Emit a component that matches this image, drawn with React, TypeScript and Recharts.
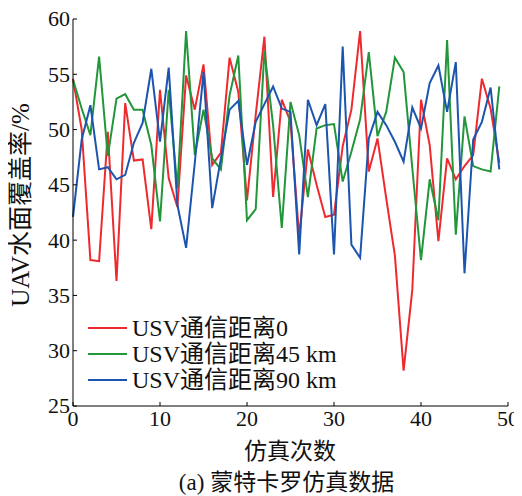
import { LineChart, Line, XAxis, YAxis } from 'recharts'

// 仿真次数 0..49
const runs = Array.from({ length: 50 }, (_, i) => i)

const usv0 = [
  54.6, 50.0, 38.2, 38.1, 49.8, 36.3, 52.4, 47.2, 47.3, 41.0,
  53.6, 45.6, 43.0, 54.9, 51.8, 55.9, 46.8, 47.9, 56.5, 53.4,
  43.6, 51.3, 58.4, 43.9, 52.7, 50.7, 40.3, 48.2, 45.0, 42.1,
  42.3, 48.5, 51.8, 58.9, 46.2, 49.2, 43.8, 38.6, 28.2, 35.5,
  52.7, 48.6, 39.9, 47.4, 45.5, 46.7, 47.7, 54.6, 51.9, 47.0,
]
const usv45 = [
  54.5, 51.9, 49.5, 56.6, 47.6, 52.8, 53.2, 51.8, 51.8, 48.6,
  41.7, 53.6, 44.7, 58.9, 47.7, 51.8, 47.4, 46.4, 53.1, 56.7,
  41.8, 42.8, 57.1, 50.4, 41.1, 52.5, 49.5, 43.9, 50.1, 50.4,
  50.5, 45.3, 48.0, 50.9, 57.0, 49.4, 51.6, 56.5, 55.2, 46.5,
  38.2, 45.5, 41.8, 58.1, 40.5, 51.2, 46.7, 46.4, 46.2, 53.9,
]
const usv90 = [
  42.1, 49.1, 52.2, 46.4, 46.6, 45.5, 45.9, 48.8, 50.6, 55.5,
  48.9, 55.6, 43.2, 39.3, 47.0, 55.2, 42.9, 47.4, 51.8, 52.6,
  46.8, 50.7, 52.3, 53.9, 51.9, 51.6, 38.7, 52.7, 50.4, 52.3,
  38.7, 57.5, 39.6, 38.4, 49.2, 51.6, 50.4, 48.9, 47.1, 52.0,
  50.1, 54.2, 55.8, 51.6, 56.1, 37.0, 49.1, 50.7, 53.8, 46.4,
]

const xTicks = [0, 10, 20, 30, 40, 50]
const yTicks = [25, 30, 35, 40, 45, 50, 55, 60]

const series = [
  { key: 'a', name: 'USV通信距离0', color: '#ee2a2f' },
  { key: 'b', name: 'USV通信距离45 km', color: '#22963a' },
  { key: 'c', name: 'USV通信距离90 km', color: '#1c55ae' },
]

const data = runs.map((r, i) => ({ run: r, a: usv0[i], b: usv45[i], c: usv90[i] }))

const FONT = '"Liberation Serif", "Noto Sans CJK SC", serif'

function YTick({ x, y, payload }: any) {
  return (
    <g>
      <line x1={x + 3} x2={x + 7} y1={y} y2={y} stroke="#000" />
      <text x={x} y={y} dy="0.34em" textAnchor="end" fontSize={22} fontFamily={FONT} fill="#111">
        {payload.value}
      </text>
    </g>
  )
}

function XTick({ x, y, payload }: any) {
  return (
    <g>
      <line x1={x} x2={x} y1={y - 4} y2={y - 8} stroke="#000" />
      <text x={x} y={y} dy="0.72em" textAnchor="middle" fontSize={22} fontFamily={FONT} fill="#111">
        {payload.value}
      </text>
    </g>
  )
}

export default function App() {
  return (
    <div style={{ position: 'relative', width: 522, height: 496, margin: '-8px -8px 0 -8px', background: '#fff', overflow: 'hidden' }}>
      <LineChart width={522} height={496} data={data} margin={{ top: 19, right: 14, bottom: 0, left: 0 }}>
        <XAxis
          dataKey="run"
          type="number"
          domain={[0, 50]}
          ticks={xTicks}
          height={90}
          tickSize={0}
          tickMargin={4}
          tick={<XTick />}
          axisLine={{ stroke: '#000' }}
        />
        <YAxis
          type="number"
          domain={[25, 60]}
          ticks={yTicks}
          width={73}
          tickSize={0}
          tickMargin={3}
          tick={<YTick />}
          axisLine={{ stroke: '#000' }}
        />
        {series.map(s => (
          <Line
            key={s.key}
            dataKey={s.key}
            name={s.name}
            stroke={s.color}
            strokeWidth={2}
            dot={false}
            isAnimationActive={false}
          />
        ))}
      </LineChart>

      {/* legend */}
      <div style={{ position: 'absolute', left: 88, top: 315, fontFamily: FONT, fontSize: 24, color: '#111', lineHeight: '26px' }}>
        {series.map(s => (
          <div key={s.key} style={{ display: 'flex', alignItems: 'center', whiteSpace: 'nowrap', height: 26 }}>
            <span style={{ display: 'inline-block', width: 39, height: 2, background: s.color, marginRight: 5 }} />
            {s.name}
          </div>
        ))}
      </div>

      <div
        style={{
          position: 'absolute', left: 20, top: 205, transform: 'translate(-50%, -50%) rotate(-90deg)',
          fontFamily: FONT, fontSize: 25, lineHeight: '25px', whiteSpace: 'nowrap', color: '#111',
        }}
      >
        UAV水面覆盖率/%
      </div>
      <div style={{ position: 'absolute', left: 0, width: 580, top: 440, lineHeight: '24px', textAlign: 'center', fontFamily: FONT, fontSize: 23, color: '#111' }}>
        仿真次数
      </div>
      <div style={{ position: 'absolute', left: 0, width: 573, top: 471, lineHeight: '24px', textAlign: 'center', fontFamily: FONT, fontSize: 23, color: '#111' }}>
        (a) 蒙特卡罗仿真数据
      </div>
    </div>
  )
}
